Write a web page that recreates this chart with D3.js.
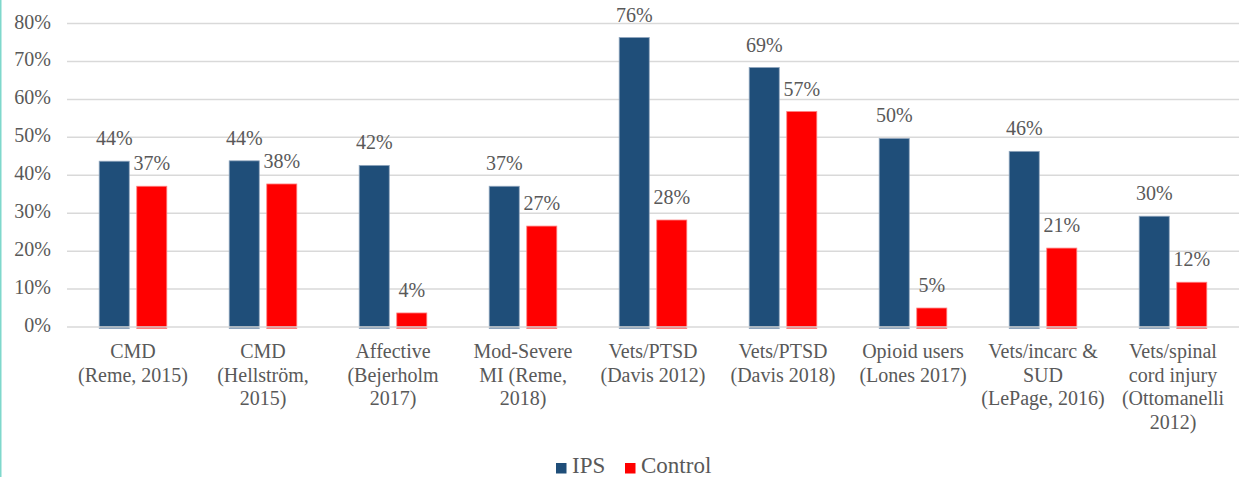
<!DOCTYPE html>
<html>
<head>
<meta charset="utf-8">
<script src="https://cdn.jsdelivr.net/npm/d3@7"></script>
<style>
  body { margin: 0; background: #fff; }
  svg { display: block; }
</style>
</head>
<body>
<svg id="chart"></svg>
<script>
// chart data
var categories = [
    "CMD\n(Reme, 2015)",
    "CMD\n(Hellström,\n2015)",
    "Affective\n(Bejerholm\n2017)",
    "Mod-Severe\nMI (Reme,\n2018)",
    "Vets/PTSD\n(Davis 2012)",
    "Vets/PTSD\n(Davis 2018)",
    "Opioid users\n(Lones 2017)",
    "Vets/incarc &\nSUD\n(LePage, 2016)",
    "Vets/spinal\ncord injury\n(Ottomanelli\n2012)"
];
var seriesNames = ["IPS", "Control"];
var ipsValues = [0.437, 0.438, 0.426, 0.371, 0.763, 0.684, 0.497, 0.463, 0.292];
var controlValues = [0.371, 0.377, 0.037, 0.266, 0.282, 0.568, 0.050, 0.208, 0.118];
var ipsLabels = ["44%", "44%", "42%", "37%", "76%", "69%", "50%", "46%", "30%"];
var controlLabels = ["37%", "38%", "4%", "27%", "28%", "57%", "5%", "21%", "12%"];
var yTicks = [0, 0.1, 0.2, 0.3, 0.4, 0.5, 0.6, 0.7, 0.8];

var width = 1241;
var height = 477;
var colors = { IPS: "#1f4e79", Control: "#ff0000" };
var strokes = { IPS: "#8fa5bd", Control: "#ff8080" };

// pick the first serif face that is really installed
function pickFont() {
    var candidates = ["Liberation Serif", "Tinos", "Times New Roman", "Times", "Nimbus Roman",
        "Nimbus Roman No9 L", "DejaVu Serif", "Noto Serif", "FreeSerif", "Georgia"];
    var ctx = document.createElement('canvas').getContext('2d');
    var sample = "Hellström Wij 0123% (Reme)";
    function w(f) { ctx.font = "40px " + f; return ctx.measureText(sample).width; }
    var baseMono = w("monospace"), baseSans = w("sans-serif");
    for (var i = 0; i < candidates.length; i++) {
        var f = "'" + candidates[i] + "'";
        if (w(f + ", monospace") != baseMono || w(f + ", sans-serif") != baseSans) return f + ", serif";
    }
    return "serif";
}
var fontFamily = pickFont();

var svg = d3.select('#chart')
    .attr('width', width)
    .attr('height', height)
    .attr('font-family', fontFamily);

// teal edge on the left
svg.append('rect')
    .attr('x', 0).attr('y', 0)
    .attr('width', 1.5).attr('height', height)
    .attr('fill', '#7fd8cc');

var x0 = d3.scaleBand()
    .domain(categories)
    .range([68, 1238])
    .paddingInner(0.48)
    .paddingOuter(0.24);

var x1 = d3.scaleBand()
    .domain(seriesNames)
    .range([0, x0.bandwidth()])
    .paddingInner(0.2);

var y = d3.scaleLinear()
    .domain([0, 0.8])
    .range([327, 23.5]);

// gridlines
svg.append('g')
    .selectAll('line')
    .data(yTicks.filter(d => d > 0))
    .join('line')
    .attr('x1', 67).attr('x2', 1239)
    .attr('y1', d => y(d)).attr('y2', d => y(d))
    .attr('stroke', '#d9d9d9')
    .attr('stroke-width', 1.5);

// y tick labels
svg.append('g')
    .selectAll('text')
    .data(yTicks)
    .join('text')
    .attr('x', 51)
    .attr('y', d => y(d) + 5)
    .attr('text-anchor', 'end')
    .attr('font-size', 20)
    .attr('fill', '#595959')
    .text(d3.format('.0%'));

var rows = categories.map((c, i) => ({
    category: c,
    bars: [
        { key: "IPS", value: ipsValues[i], label: ipsLabels[i] },
        { key: "Control", value: controlValues[i], label: controlLabels[i] }
    ]
}));

var groups = svg.append('g')
    .selectAll('g')
    .data(rows)
    .join('g')
    .attr('transform', d => `translate(${x0(d.category)},0)`);

groups.selectAll('rect')
    .data(d => d.bars)
    .join('rect')
    .attr('x', d => x1(d.key))
    .attr('width', x1.bandwidth())
    .attr('y', d => y(d.value))
    .attr('height', d => y(0) - y(d.value) + 1.5)
    .attr('fill', d => colors[d.key])
    .attr('stroke', d => strokes[d.key])
    .attr('stroke-width', 0.8);

groups.selectAll('text')
    .data(d => d.bars)
    .join('text')
    .attr('x', d => x1(d.key) + x1.bandwidth() / 2)
    .attr('y', d => y(d.value) - 16)
    .attr('text-anchor', 'middle')
    .attr('font-size', 20)
    .attr('fill', '#595959')
    .text(d => d.label);

// baseline on top of bars
svg.append('line')
    .attr('x1', 67).attr('x2', 1239)
    .attr('y1', y(0)).attr('y2', y(0))
    .attr('stroke', '#d9d9d9')
    .attr('stroke-width', 1.5);

// category labels
var catLabels = svg.append('g')
    .selectAll('text')
    .data(categories)
    .join('text')
    .attr('text-anchor', 'middle')
    .attr('font-size', 20)
    .attr('fill', '#595959')
    .attr('transform', d => `translate(${x0(d) + x0.bandwidth() / 2},358)`);

catLabels.selectAll('tspan')
    .data(d => d.split('\n'))
    .join('tspan')
    .attr('x', 0)
    .attr('y', (d, i) => i * 23.5)
    .text(d => d);

// legend
var legend = svg.append('g').attr('transform', 'translate(556,473)');
var legendX = [0, 69];
var legendItems = legend.selectAll('g')
    .data(seriesNames)
    .join('g')
    .attr('transform', (d, i) => `translate(${legendX[i]},0)`);

legendItems.append('rect')
    .attr('x', 0).attr('y', -10)
    .attr('width', 10.5).attr('height', 10.5)
    .attr('fill', d => colors[d]);

legendItems.append('text')
    .attr('x', 16)
    .attr('y', 0)
    .attr('font-size', 23)
    .attr('fill', '#595959')
    .text(d => d);
</script>
</body>
</html>
